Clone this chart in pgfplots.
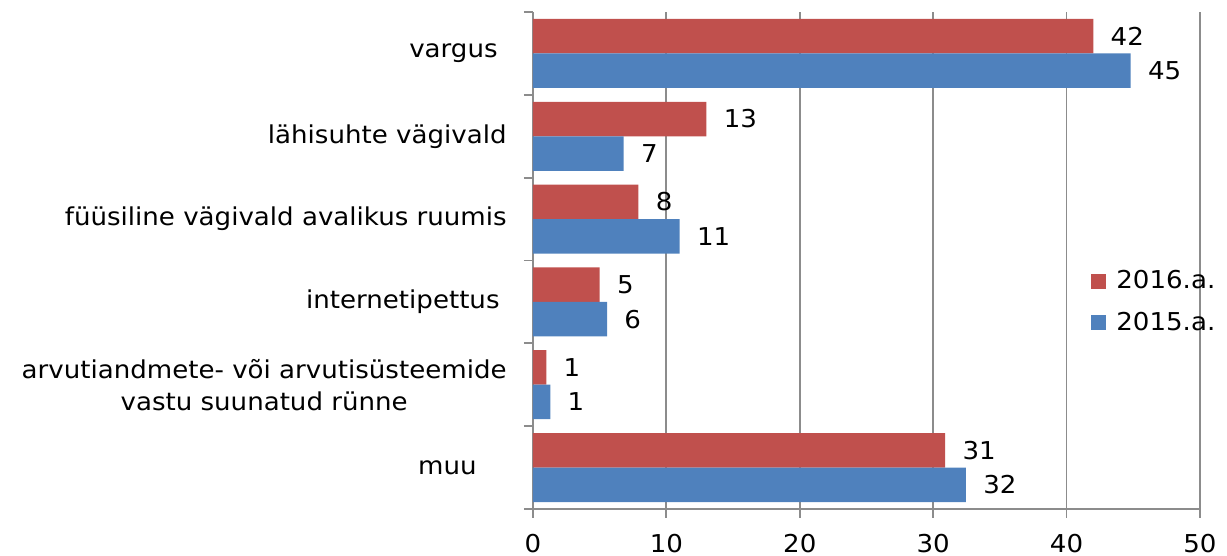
\documentclass[border=0pt]{standalone}
\usepackage{fontspec}
\setmainfont{DejaVu Sans}[FakeStretch=1.06]
\usepackage{pgfplots}
\pgfplotsset{compat=1.18}
\definecolor{cred}{HTML}{C0504D}
\definecolor{cblue}{HTML}{4F81BD}
\definecolor{cgrid}{HTML}{8C8C8C}
\begin{document}
\begin{tikzpicture}[font=\fontsize{12.3}{16}\selectfont]
\useasboundingbox (-266.5pt,-23.5pt) rectangle (347pt,254.5pt);
\begin{axis}[
  at={(0pt,0pt)}, anchor=south west,
  scale only axis, width=333.5pt, height=248.5pt,
  xmin=0, xmax=50, ymin=-0.5, ymax=5.5,
  axis x line*=bottom, axis y line*=left,
  axis line style={-, draw=cgrid, line width=0.9pt},
  xtick={0,10,...,50},
  xmajorgrids, major grid style={cgrid, line width=0.9pt},
  tick align=outside, major tick length=4.5pt, minor tick length=4.5pt,
  every major x tick/.append style={cgrid, line width=0.9pt},
  ytick={0,...,5},
  yticklabels={muu\hspace*{15pt}, {arvutiandmete- või arvutisüsteemide\\vastu suunatud rünne}, internetipettus\hspace*{3.5pt}, füüsiline vägivald avalikus ruumis, lähisuhte vägivald, vargus\hspace*{4.5pt}},
  every major y tick/.append style={draw=none},
  minor ytick={-0.5,0.5,...,5.5},
  every minor y tick/.append style={cgrid, line width=0.9pt},
  yticklabel style={align=center, inner sep=0pt, xshift=-8.5pt},
  xticklabel style={inner sep=0pt, yshift=-8pt},
  /pgf/number format/assume math mode=true,
  nodes near coords, point meta=explicit symbolic,
  nodes near coords style={anchor=west, inner sep=0pt, xshift=8.5pt, text=black},
  legend style={at={(0.8366,0.4165)}, anchor=west, draw=none, fill=none, inner sep=0pt, row sep=6pt, font=\fontsize{12.3}{14.8}\selectfont},
  legend cell align=left,
  legend image code/.code={\fill (0pt,-3.75pt) rectangle (7.5pt,3.75pt); \path (10.5pt,0pt);},
]
\addplot[xbar, bar width=17.25pt, bar shift=8.625pt, fill=cred, draw=none,
  every node near coord/.append style={yshift=8.625pt}]
  coordinates {(42.0,5)[42] (13.0,4)[13] (7.9,3)[8] (5.0,2)[5] (1.0,1)[1] (30.9,0)[31]};
\addplot[xbar, bar width=17.25pt, bar shift=-8.625pt, fill=cblue, draw=none,
  every node near coord/.append style={yshift=-8.625pt}]
  coordinates {(44.8,5)[45] (6.8,4)[7] (11.0,3)[11] (5.55,2)[6] (1.3,1)[1] (32.45,0)[32]};
\legend{2016.a.,2015.a.}
\end{axis}
\end{tikzpicture}
\end{document}
